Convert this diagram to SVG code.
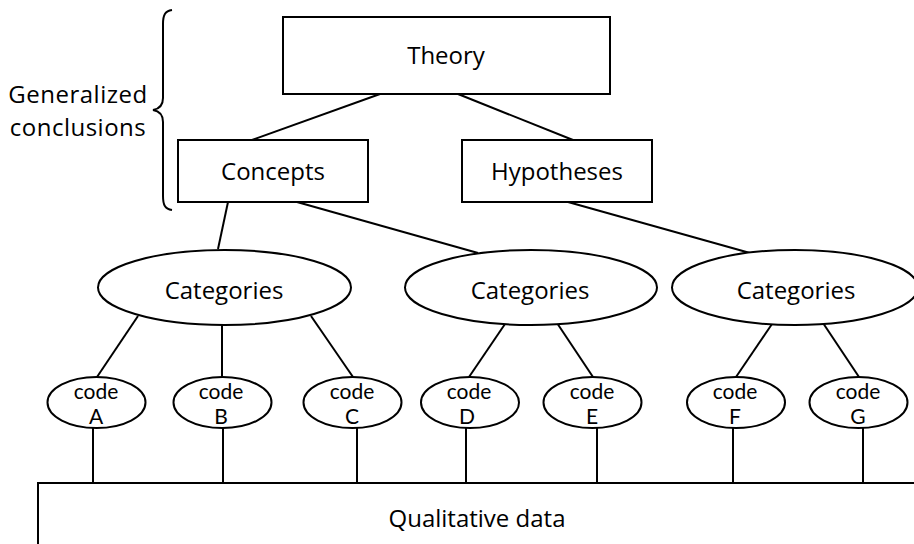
<svg xmlns="http://www.w3.org/2000/svg" width="914" height="544" viewBox="0 0 914 544">
<style>
.n{fill:#fff;stroke:#000;stroke-width:2}
.c line,.c path{stroke:#000;stroke-width:2;fill:none}
text{font-family:"Open Sans","Noto Sans",sans-serif;fill:#000;text-anchor:middle}
.l{font-size:24px}
.g{font-size:24px;letter-spacing:0.5px}
.s{font-family:Lato,"Open Sans",sans-serif;font-size:21px}
</style>
<rect width="914" height="544" fill="#fff"/>
<g class="c" id="connectors">
<line x1="380" y1="94" x2="252" y2="140"/>
<line x1="458" y1="94" x2="573" y2="140"/>
<line x1="228" y1="202" x2="218" y2="249"/>
<line x1="297" y1="202" x2="478" y2="253"/>
<line x1="568" y1="202" x2="750" y2="253"/>
<line x1="138" y1="316" x2="97" y2="377"/>
<line x1="222" y1="325" x2="222" y2="377"/>
<line x1="311" y1="316" x2="353" y2="377"/>
<line x1="505" y1="324" x2="469" y2="377"/>
<line x1="557" y1="323" x2="593" y2="377"/>
<line x1="772" y1="324" x2="736" y2="377"/>
<line x1="823" y1="323" x2="859" y2="377"/>
<line x1="93" y1="428" x2="93" y2="483"/>
<line x1="223" y1="428" x2="223" y2="483"/>
<line x1="357" y1="428" x2="357" y2="483"/>
<line x1="466" y1="428" x2="466" y2="483"/>
<line x1="597" y1="428" x2="597" y2="483"/>
<line x1="733" y1="428" x2="733" y2="483"/>
<line x1="863" y1="428" x2="863" y2="483"/>
</g>
<g id="brace" class="c">
<path d="M172,10 C165,11 163,15 163,24 L163,98 C163,106 159,109 153,110 C159,111 163,114 163,122 L163,196 C163,205 165,209 172,210"/>
</g>
<g id="label-generalized">
<text class="g" x="78" y="103">Generalized</text>
<text class="g" x="78" y="136">conclusions</text>
</g>
<g id="theory"><rect class="n" x="283" y="17" width="327" height="77"/><text class="l" x="446" y="64">Theory</text></g>
<g id="concepts"><rect class="n" x="178" y="140" width="190" height="62"/><text class="l" x="273" y="180">Concepts</text></g>
<g id="hypotheses"><rect class="n" x="462" y="140" width="190" height="62"/><text class="l" x="557" y="180">Hypotheses</text></g>
<g id="cat1"><ellipse class="n" cx="224.5" cy="287.5" rx="126.5" ry="37.5"/><text class="l" x="224" y="299">Categories</text></g>
<g id="cat2"><ellipse class="n" cx="531" cy="287.5" rx="126" ry="37.5"/><text class="l" x="530" y="299">Categories</text></g>
<g id="cat3"><ellipse class="n" cx="795" cy="287.5" rx="123" ry="37.5"/><text class="l" x="796" y="299">Categories</text></g>
<g id="codeA"><ellipse class="n" cx="96.5" cy="402.5" rx="49" ry="25.5"/><text class="s" x="96" y="399">code<tspan x="96" dy="25">A</tspan></text></g>
<g id="codeB"><ellipse class="n" cx="222.5" cy="402.5" rx="49" ry="25.5"/><text class="s" x="221" y="399">code<tspan x="221" dy="25">B</tspan></text></g>
<g id="codeC"><ellipse class="n" cx="352.5" cy="402.5" rx="49" ry="25.5"/><text class="s" x="352" y="399">code<tspan x="352" dy="25">C</tspan></text></g>
<g id="codeD"><ellipse class="n" cx="470" cy="402.5" rx="49" ry="25.5"/><text class="s" x="469" y="399">code<tspan x="467" dy="25">D</tspan></text></g>
<g id="codeE"><ellipse class="n" cx="592.5" cy="402.5" rx="49" ry="25.5"/><text class="s" x="592" y="399">code<tspan x="592" dy="25">E</tspan></text></g>
<g id="codeF"><ellipse class="n" cx="736" cy="402.5" rx="49" ry="25.5"/><text class="s" x="735" y="399">code<tspan x="735" dy="25">F</tspan></text></g>
<g id="codeG"><ellipse class="n" cx="858.5" cy="402.5" rx="49" ry="25.5"/><text class="s" x="858" y="399">code<tspan x="858" dy="25">G</tspan></text></g>
<g id="data"><rect class="n" x="38" y="483" width="900" height="80"/><text class="l" x="477" y="527">Qualitative data</text></g>
</svg>
